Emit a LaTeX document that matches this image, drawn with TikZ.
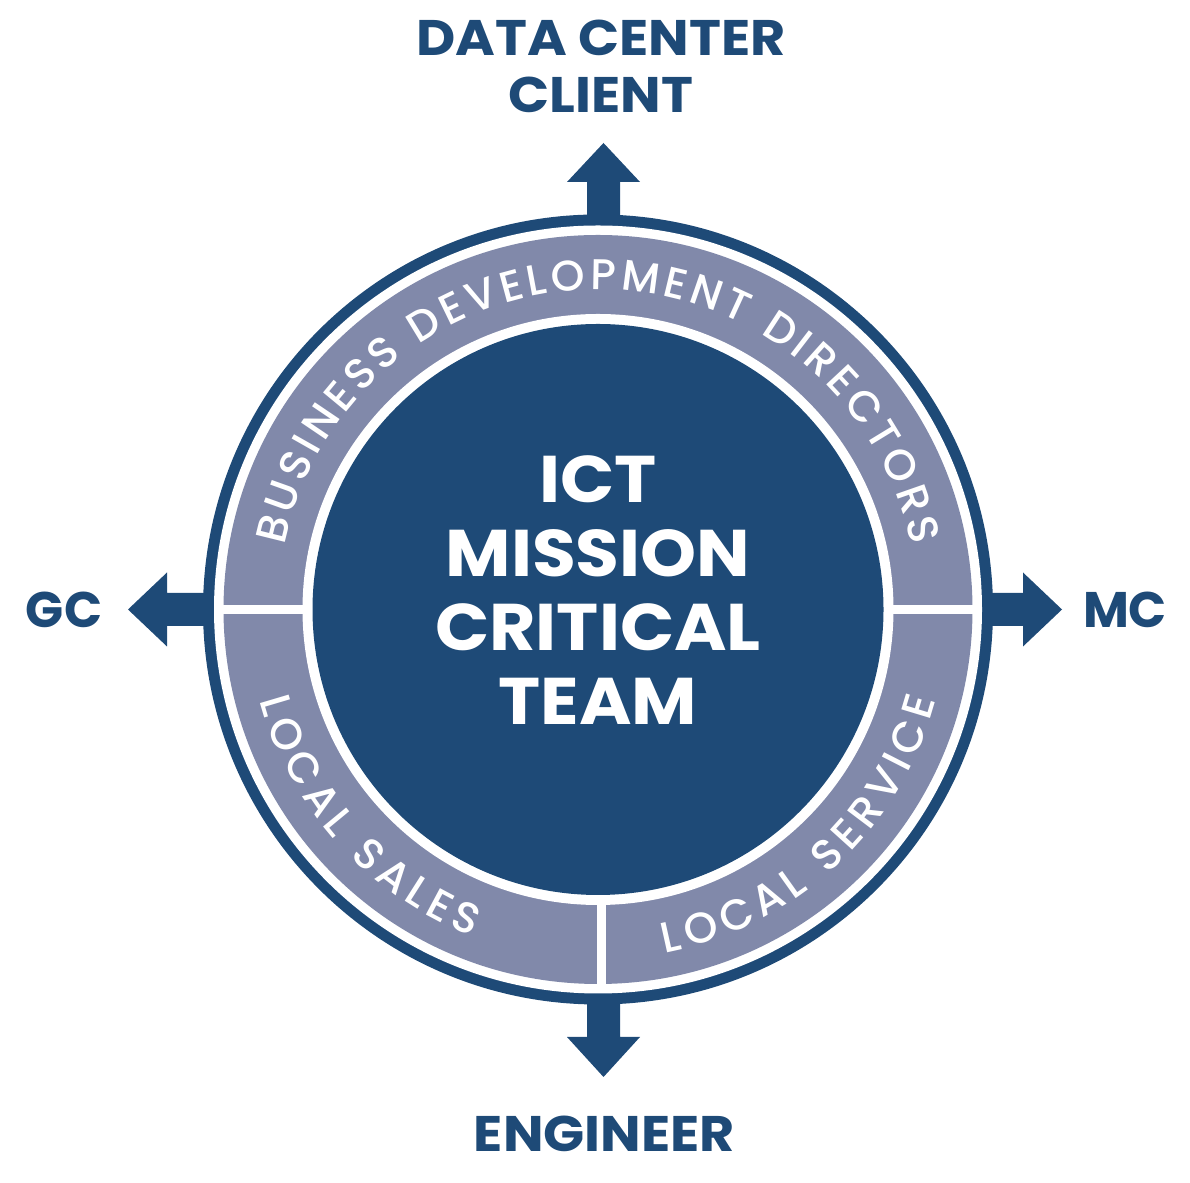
\documentclass[tikz,border=0pt]{standalone}
\usepackage{fontspec}
\setmainfont{Poppins}
\newfontfamily\ringfont{Poppins Medium}
\newfontfamily\wide{Poppins}[FakeStretch=1.08]
\usetikzlibrary{decorations.text}
\definecolor{navy}{RGB}{30,74,119}
\definecolor{ringgray}{RGB}{129,137,170}
\tikzset{
  lbl/.style={text=navy, font=\bfseries\fontsize{50}{57}\selectfont, inner sep=0pt, align=center},
  widelbl/.style={lbl, font=\wide\bfseries\fontsize{50}{57}\selectfont},
  bigarrow/.style={fill=navy},
  divider/.style={draw=white, line width=9pt},
  ringtext/.style={decorate, decoration={text along path, text align={fit to path}, text color=white, text={#1}}}
}
\begin{document}
\begin{tikzpicture}[x=1pt,y=1pt]
\useasboundingbox (0,0) rectangle (1190,1182);
\coordinate (C) at (598,572.5);
% rings
\fill[navy] (C) circle[radius=395];
\fill[white] (C) circle[radius=384];
\fill[ringgray] (C) circle[radius=374.5];
\draw[divider] ([xshift=-380pt]C) -- ([xshift=-290pt]C);
\draw[divider] ([xshift=290pt]C) -- ([xshift=380pt]C);
\draw[divider] ([xshift=3.5pt,yshift=-290pt]C) -- ([xshift=3.5pt,yshift=-380pt]C);
\fill[white] (C) circle[radius=295.5];
\node[circle, fill=navy, minimum size=571pt, inner sep=0pt] (core) at (C) {};
% arrows
\fill[bigarrow] (587,962) -- (587,1000) -- (567,1000) -- (603.5,1039) coordinate (tipN) -- (640,1000) -- (620,1000) -- (620,962) -- cycle;
\fill[bigarrow] (587,184) -- (587,145) -- (567,145) -- (603.5,105) coordinate (tipS) -- (640,145) -- (620,145) -- (620,184) -- cycle;
\fill[bigarrow] (208,556) -- (167,556) -- (167,535.5) -- (128,572.5) coordinate (tipW) -- (167,609.5) -- (167,589) -- (208,589) -- cycle;
\fill[bigarrow] (988,556) -- (1023,556) -- (1023,535.5) -- (1062,572.5) coordinate (tipE) -- (1023,609.5) -- (1023,589) -- (988,589) -- cycle;
% labels
\node[widelbl, anchor=north] (client) at (601,1162) {DATA CENTER\\CLIENT};
\node[lbl, anchor=base] (gc) at (64,554) {GC};
\node[lbl, anchor=base] (mc) at (1125,554) {MC};
\node[widelbl, anchor=base] (eng) at (604.5,30) {ENGINEER};
% centre text
\node[text=white, font=\wide\bfseries\fontsize{66}{74}\selectfont, inner sep=0pt, align=center, anchor=north] (team) at (598,727) {ICT\\MISSION\\CRITICAL\\TEAM};
% ring texts
\path[ringtext={|\ringfont\fontsize{43}{47}\selectfont|BUSINESS DEVELOPMENT DIRECTORS}] ([shift={(168.5:320)}]C) arc[start angle=168.5, end angle=11.5, radius=320];
\path[ringtext={|\ringfont\fontsize{43}{47}\selectfont|LOCAL SALES}] ([shift={(195:350)}]C) arc[start angle=195, end angle=249, radius=350];
\path[ringtext={|\ringfont\fontsize{43}{47}\selectfont|LOCAL SERVICE}] ([shift={(281:350)}]C) arc[start angle=281, end angle=345, radius=350];
\end{tikzpicture}
\end{document}
